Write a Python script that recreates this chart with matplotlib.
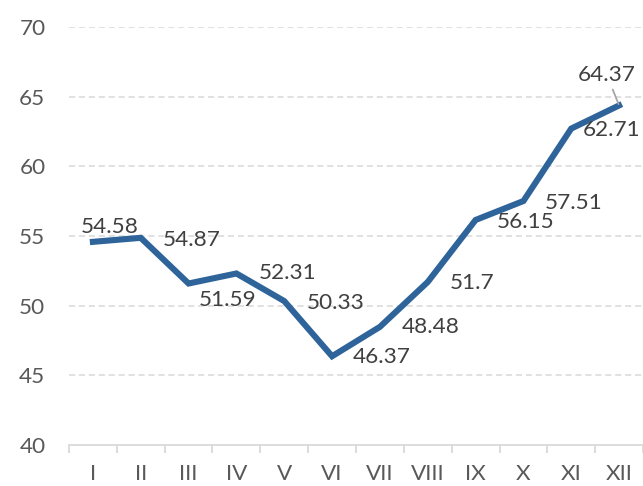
import matplotlib.pyplot as plt
from matplotlib.ticker import FixedLocator

# Data
months = ['I', 'II', 'III', 'IV', 'V', 'VI', 'VII', 'VIII', 'IX', 'X', 'XI', 'XII']
values = [54.58, 54.87, 51.59, 52.31, 50.33, 46.37, 48.48, 51.7, 56.15, 57.51, 62.71, 64.37]

# label offsets (pixels) relative to each point
label_dx = [17, 51, 39, 51, 51, 50, 51, 44, 50, 50, 40, -12]
label_dy = [15, -2, -16, 0, -2, -1, 0, -1, -2, -2, -1, 30]

plt.rcParams['font.family'] = ['Lato', 'DejaVu Sans']

fig = plt.figure(figsize=(6.43, 4.86), dpi=100)
ax = fig.add_axes([69 / 643, 41 / 486, 574 / 643, 418 / 486])

x = list(range(len(months)))
ax.plot(x, values, color='#2E649A', linewidth=4.4, solid_joinstyle='miter', zorder=3)

for i, v in enumerate(values):
    if i == len(values) - 1:
        # last label sits above-left with a small leader line
        ax.annotate(f'{v:g}', xy=(i, v), xytext=(label_dx[i], label_dy[i]),
                    textcoords='offset pixels', ha='center', va='center',
                    fontsize=16.2, color='#404040',
                    arrowprops=dict(arrowstyle='-', color='#A6A6A6', lw=1.3,
                                    shrinkA=1, shrinkB=1))
    else:
        ax.annotate(f'{v:g}', xy=(i, v), xytext=(label_dx[i], label_dy[i]),
                    textcoords='offset pixels', ha='center', va='center',
                    fontsize=16.2, color='#404040')

ax.set_xlim(-0.5, 11.5)
ax.set_ylim(40, 70)
ax.set_yticks([40, 45, 50, 55, 60, 65, 70])
ax.set_xticks(x)
ax.set_xticklabels(months)
ax.xaxis.set_minor_locator(FixedLocator([i - 0.5 for i in range(13)]))

ax.tick_params(axis='y', length=0, pad=17, labelsize=16.2, labelcolor='#595959')
ax.tick_params(axis='x', which='major', length=0, pad=14, labelsize=16.2, labelcolor='#595959')
ax.tick_params(axis='x', which='minor', length=6, width=1.3, color='#D9D9D9')

for side in ['left', 'right', 'top']:
    ax.spines[side].set_visible(False)
ax.spines['bottom'].set_color('#D9D9D9')
ax.spines['bottom'].set_linewidth(1.3)

for yv in [45, 50, 55, 60, 65, 70]:
    ax.axhline(yv, color='#D9D9D9', linewidth=1.1, linestyle=(0, (4, 2.5)), zorder=1)

fig.savefig('out.png', dpi=100)
